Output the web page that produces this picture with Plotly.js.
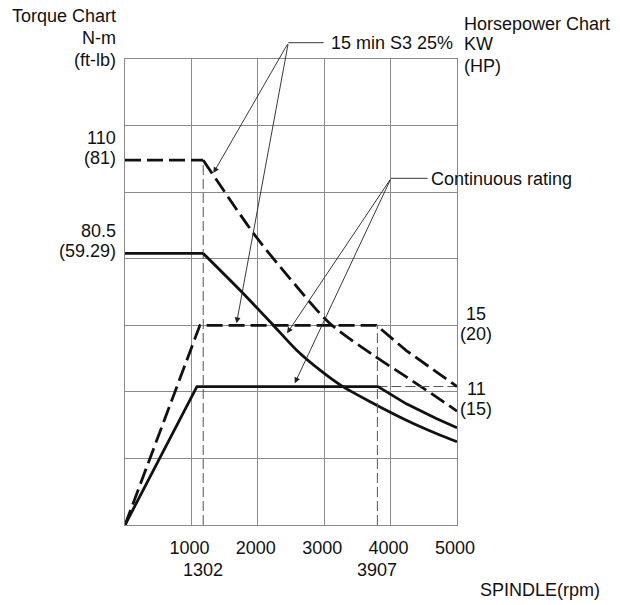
<!DOCTYPE html>
<html>
<head>
<meta charset="utf-8">
<script src="https://cdn.plot.ly/plotly-3.0.1.min.js"></script>
<style>
  html, body { margin: 0; padding: 0; background: #fff; }
  #chart { width: 620px; height: 605px; }
</style>
</head>
<body>
<div id="chart"></div>
<script>
// ---------- data (x = spindle rpm position on the drawn scale) ----------
const rpmS3Torque   = [0, 1178, 1955, 2482, 3083, 3734, 4237, 4688, 5000];
const torqueS3      = [109.6, 109.6, 87.1, 74.1, 60.6, 51.1, 44.5, 38.5, 34.2];

const rpmContTorque = [0, 1178, 1730, 2230, 2582, 2933, 3264, 3734, 4237, 4688, 5000];
const torqueCont    = [81.6, 81.6, 70.6, 60.1, 52.6, 46.6, 41.8, 36.6, 31.5, 27.5, 25.0];

const rpmS3Power    = [0, 1128, 3786, 4237, 4688, 5000];
const powerS3       = [0, 15.0, 15.0, 13.1, 11.5, 10.4];

const rpmContPower  = [0, 1083, 3810, 4237, 4688, 5000];
const powerCont     = [0, 10.4, 10.4, 9.1, 8.0, 7.3];

const baseSpeedPos    = [1178, 3801];
const baseSpeedLabels = ['1302', '3907'];
const baseTorqueTop   = 109.6;   // torque level where the 1302 guide ends
const cornerPowerTop  = 15.0;    // power level where the 3907 guide ends
const contPowerLevel  = 10.4;    // continuous-rating power level (guide to the right edge)

const xTickVals = [1000, 2000, 3000, 4000, 5000];
const xTickText = ['1000', '2000', '3000', '4000', '5000'];

const torqueLabelVals  = [109.6, 81.6];
const torqueLabelTop   = ['110', '80.5'];
const torqueLabelBot   = ['(81)', '(59.29)'];
const powerLabelVals   = [15.0, 10.4];
const powerLabelTop    = ['15', '11'];
const powerLabelBot    = ['(20)', '(15)'];

// ---------- layout helpers ----------
const L = 125, R = 457.5, T = 59, B = 525, W = 620, H = 605;
const fx = x => (x - L) / (R - L);
const fy = y => (B - y) / (B - T);
const FONT = 'Liberation Sans, Arial, Helvetica, sans-serif';
const INK = '#111111';
const GRID = '#8a8a8a';

const thick = 2.8;
const dashPat = '16px,6px';
const guide = { color: '#555555', width: 1, dash: '10px,4px' };

// split each torque curve into its constant part and its falling (smooth) part
const flatPart = arr => arr.slice(0, 2);
const fallPart = arr => arr.slice(1);

const traces = [
  // thin guide lines
  { x: [baseSpeedPos[0], baseSpeedPos[0]], y: [0, baseTorqueTop], yaxis: 'y', mode: 'lines', line: guide, hoverinfo: 'skip' },
  { x: [baseSpeedPos[1], baseSpeedPos[1]], y: [0, cornerPowerTop], yaxis: 'y2', mode: 'lines', line: guide, hoverinfo: 'skip' },
  { x: [baseSpeedPos[1], 5000], y: [contPowerLevel, contPowerLevel], yaxis: 'y2', mode: 'lines', line: guide, hoverinfo: 'skip' },
  // power curves
  { x: rpmS3Power, y: powerS3, yaxis: 'y2', mode: 'lines', name: '15 min S3 25% power',
    line: { color: INK, width: thick, dash: dashPat } },
  { x: rpmContPower, y: powerCont, yaxis: 'y2', mode: 'lines', name: 'Continuous power',
    line: { color: INK, width: thick } },
  // torque curves
  { x: flatPart(rpmS3Torque), y: flatPart(torqueS3), yaxis: 'y', mode: 'lines', name: '15 min S3 25% torque',
    line: { color: INK, width: thick, dash: dashPat } },
  { x: fallPart(rpmS3Torque), y: fallPart(torqueS3), yaxis: 'y', mode: 'lines', name: '15 min S3 25% torque',
    line: { color: INK, width: thick, dash: dashPat, shape: 'spline', smoothing: 0.8 } },
  { x: flatPart(rpmContTorque), y: flatPart(torqueCont), yaxis: 'y', mode: 'lines', name: 'Continuous torque',
    line: { color: INK, width: thick } },
  { x: fallPart(rpmContTorque), y: fallPart(torqueCont), yaxis: 'y', mode: 'lines', name: 'Continuous torque',
    line: { color: INK, width: thick, shape: 'spline', smoothing: 0.8 } }
];

const txt = (text, x, y, xanchor) => ({
  text, x: fx(x), y: fy(y), xref: 'paper', yref: 'paper',
  xanchor, yanchor: 'middle', showarrow: false, borderpad: 0,
  font: { family: FONT, size: 18, color: INK }
});

const annotations = [
  txt('Torque Chart', 117, 16, 'right'),
  txt('N-m', 117, 38, 'right'),
  txt('(ft-lb)', 117, 60, 'right'),
  txt('Horsepower Chart', 464, 24, 'left'),
  txt('KW', 464, 44, 'left'),
  txt('(HP)', 464, 66, 'left'),
  txt('15 min S3 25%', 330, 43, 'left'),
  txt('Continuous rating', 430, 179, 'left'),
  txt('SPINDLE(rpm)', 480, 590, 'left')
];

const lab = (text, x, v, yref, xanchor, yshift) => ({
  text, x: fx(x), y: v, xref: 'paper', yref, xanchor, yanchor: 'middle',
  yshift, showarrow: false, borderpad: 0,
  font: { family: FONT, size: 18, color: INK }
});

// left (torque) labels
torqueLabelVals.forEach((v, i) => {
  annotations.push(lab(torqueLabelTop[i], 117, v, 'y', 'right', 22));
  annotations.push(lab(torqueLabelBot[i], 117, v, 'y', 'right', 2));
});
// right (power) labels
const pShiftTop = [11, -2], pShiftBot = [-9, -22];
powerLabelVals.forEach((v, i) => {
  annotations.push(lab(powerLabelTop[i], 477, v, 'y2', 'center', pShiftTop[i]));
  annotations.push(lab(powerLabelBot[i], 477, v, 'y2', 'center', pShiftBot[i]));
});
// base speed labels (second row under the axis)
baseSpeedPos.forEach((v, i) => {
  annotations.push({ text: baseSpeedLabels[i], x: v, y: fy(570), xref: 'x', yref: 'paper',
    xanchor: 'center', yanchor: 'middle', showarrow: false, borderpad: 0,
    font: { family: FONT, size: 18, color: INK } });
});

// pointer arrows (head at the curve, tail at the label hub)
const arrow = (hx, hy, tx, ty) => ({
  text: '', x: fx(hx), y: fy(hy), xref: 'paper', yref: 'paper',
  ax: tx - hx, ay: ty - hy, showarrow: true,
  arrowhead: 2, arrowsize: 1.3, arrowwidth: 0.9, arrowcolor: '#222', standoff: 0
});
const hubS3 = [288.5, 42.7], hubCont = [391.3, 178.3];
annotations.push(arrow(213.5, 173, hubS3[0], hubS3[1]));
annotations.push(arrow(236.7, 323.3, hubS3[0], hubS3[1]));
annotations.push(arrow(287.3, 333.3, hubCont[0], hubCont[1]));
annotations.push(arrow(295, 383.3, hubCont[0], hubCont[1]));

const shapes = [
  { type: 'line', xref: 'paper', yref: 'paper', x0: fx(hubS3[0]), y0: fy(hubS3[1]), x1: fx(324), y1: fy(hubS3[1]),
    line: { color: '#222', width: 0.9 } },
  { type: 'line', xref: 'paper', yref: 'paper', x0: fx(hubCont[0]), y0: fy(hubCont[1]), x1: fx(428), y1: fy(hubCont[1]),
    line: { color: '#222', width: 0.9 } }
];

const layout = {
  width: W, height: H,
  margin: { l: L, r: W - R, t: T, b: H - B, pad: 0 },
  paper_bgcolor: '#ffffff', plot_bgcolor: '#ffffff',
  showlegend: false,
  font: { family: FONT, size: 18, color: INK },
  xaxis: {
    range: [0, 5000], tickvals: xTickVals, ticktext: xTickText,
    showgrid: true, gridcolor: GRID, gridwidth: 1,
    showline: true, mirror: true, linecolor: GRID, linewidth: 1,
    zeroline: false, ticks: '', ticklabelstandoff: 6, ticklabelshift: -2,
    tickfont: { family: FONT, size: 18, color: INK }, fixedrange: true
  },
  yaxis: {
    range: [0, 140], dtick: 20, tick0: 0,
    showgrid: true, gridcolor: GRID, gridwidth: 1,
    showline: true, mirror: true, linecolor: GRID, linewidth: 1,
    zeroline: false, showticklabels: false, ticks: '', fixedrange: true
  },
  yaxis2: {
    range: [0, 35], overlaying: 'y', side: 'right',
    showgrid: false, showline: false, zeroline: false,
    showticklabels: false, ticks: '', fixedrange: true
  },
  annotations, shapes
};

Plotly.newPlot('chart', traces, layout, { displayModeBar: false, staticPlot: true });
</script>
</body>
</html>
